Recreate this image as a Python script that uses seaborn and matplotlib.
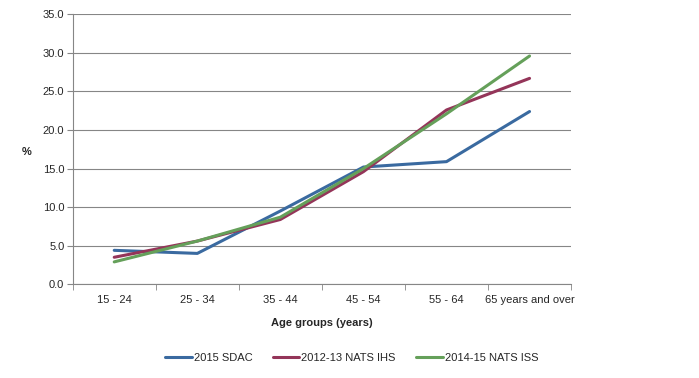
import matplotlib.pyplot as plt
import seaborn as sns
import pandas as pd

age_groups = ['15 - 24', '25 - 34', '35 - 44', '45 - 54', '55 - 64', '65 years and over']
sdac_2015 = [4.4, 4.0, 9.5, 15.2, 15.9, 22.4]
nats_ihs = [3.5, 5.6, 8.4, 14.6, 22.6, 26.7]
nats_iss = [2.9, 5.6, 8.7, 15.0, 22.1, 29.6]
series_names = ['2015 SDAC', '2012-13 NATS IHS', '2014-15 NATS ISS']
colors = ['#3A6AA0', '#943559', '#65A05A']

sns.set_style('white')
plt.rcParams['font.family'] = ['Liberation Sans', 'DejaVu Sans']

# long form table for seaborn
rows = []
for name, vals in zip(series_names, [sdac_2015, nats_ihs, nats_iss]):
    for i, v in enumerate(vals):
        rows.append({'pos': i, 'value': v, 'series': name})
df = pd.DataFrame(rows)

fig = plt.figure(figsize=(6.99, 3.78), dpi=100)
ax = fig.add_axes([0.104, 0.248, 0.713, 0.714])

sns.lineplot(data=df, x='pos', y='value', hue='series', palette=colors,
             linewidth=2.2, ax=ax, legend=True)

fs = 8
ax.set_xlim(-0.5, 5.5)
ax.set_ylim(0, 35)
ax.set_yticks([0, 5, 10, 15, 20, 25, 30, 35])
ax.set_yticklabels([f'{v:.1f}' for v in [0, 5, 10, 15, 20, 25, 30, 35]], fontsize=fs)
ax.set_xticks(range(6))
ax.set_xticklabels(age_groups, fontsize=fs)
ax.set_xticks([i - 0.5 for i in range(7)], minor=True)
ax.tick_params(axis='x', which='major', length=0, pad=8)
ax.tick_params(axis='x', which='minor', length=4, color='#868686', direction='out', bottom=True)
ax.tick_params(axis='y', length=4, color='#868686', direction='out', pad=2, left=True)

ax.grid(axis='y', color='#868686', linewidth=0.8)
ax.set_axisbelow(True)
for side in ['top', 'right']:
    ax.spines[side].set_visible(False)
for side in ['left', 'bottom']:
    ax.spines[side].set_color('#868686')
    ax.spines[side].set_linewidth(0.8)

ax.set_xlabel('Age groups (years)', fontsize=fs, fontweight='bold', labelpad=9)
ax.set_ylabel('%', fontsize=fs, fontweight='bold', rotation=0, va='center')
ax.yaxis.set_label_coords(-0.092, 0.49)

handles, labels = ax.get_legend_handles_labels()
ax.legend(handles, labels, loc='center', bbox_to_anchor=(0.503, 0.052),
          bbox_transform=fig.transFigure, ncol=3, frameon=False, fontsize=fs,
          handlelength=2.4, columnspacing=1.8, handletextpad=0.2)

plt.savefig('out.png', dpi=100)
